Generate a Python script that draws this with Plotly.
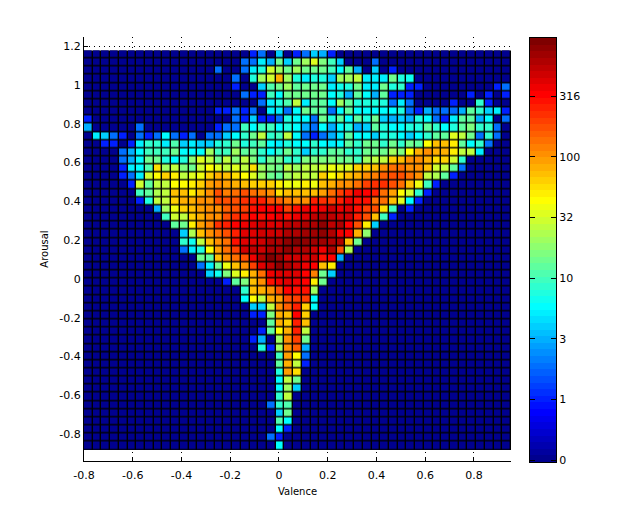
import numpy as np
import plotly.graph_objects as go

# counts per cell: top row first, each row starts at column row_start[i]
row_start = [19, 18, 15, 17, 17, 18, 20, 15, 0, 0, 1, 2, 4, 4, 4, 4, 5, 6, 6, 8, 9, 10, 11, 11, 11,
             13, 13, 14, 16, 18, 18, 19, 19, 21, 20, 19, 20, 22, 22, 22, 22, 22, 22, 21, 22, 22, 22, 21, 22]
row_counts = [
    [1, 2, 0, 4, 0, 1, 2, 4, 3, 1],
    [2, 2, 5, 3, 14, 4, 14, 20, 35, 16, 10, 4, 0, 0, 0, 2],
    [2, 0, 0, 2, 5, 8, 30, 20, 14, 20, 14, 14, 14, 10, 6, 12, 3, 0, 4, 0, 1],
    [2, 0, 8, 20, 30, 80, 20, 8, 5, 8, 8, 4, 20, 20, 25, 5, 5, 5, 14, 8, 7],
    [1, 0, 0, 4, 11, 14, 20, 12, 14, 14, 14, 5, 7, 8, 14, 5, 5, 14, 8, 9, 1, 1, 0, 0, 0, 0, 0, 0, 0, 0, 1, 2],
    [2, 1, 1, 10, 6, 14, 14, 14, 14, 14, 6, 8, 3, 12, 6, 3, 12, 1, 1, 1, 0, 0, 0, 0, 0, 0, 1, 0, 1, 0, 1],
    [2, 5, 8, 11, 25, 5, 12, 12, 6, 20, 12, 8, 8, 8, 8, 2, 5, 2, 0, 0, 0, 0, 1, 0, 0, 9, 1],
    [1, 1, 2, 1, 2, 0, 5, 5, 2, 6, 14, 12, 12, 2, 6, 12, 6, 6, 6, 6, 6, 8, 2, 1, 3, 2, 2, 2, 3, 12, 9, 4, 5, 1],
    [1, 0, 0, 0, 0, 0, 0, 0, 0, 0, 0, 0, 0, 0, 0, 0, 0, 2, 1, 4, 1, 1, 2, 8, 6, 6, 2, 14, 8, 12, 6, 13, 8, 15, 4, 3, 4, 3, 8, 6, 2, 1, 5, 12, 12, 3, 6, 0, 2],
    [3, 0, 0, 0, 0, 0, 2, 0, 0, 0, 0, 0, 0, 0, 0, 1, 2, 2, 10, 6, 10, 10, 6, 8, 6, 3, 2, 6, 3, 6, 8, 3, 4, 13, 8, 6, 6, 8, 8, 13, 9, 6, 8, 13, 16, 9, 9, 2],
    [5, 4, 2, 1, 0, 2, 1, 2, 6, 2, 1, 2, 0, 2, 2, 4, 6, 9, 14, 25, 9, 10, 28, 6, 2, 1, 2, 3, 5, 13, 6, 6, 4, 8, 8, 6, 4, 6, 9, 13, 13, 35, 25, 14, 2, 9, 2],
    [1, 1, 0, 1, 5, 9, 9, 5, 11, 4, 5, 4, 4, 8, 9, 14, 8, 10, 12, 6, 5, 8, 6, 6, 9, 6, 5, 6, 12, 9, 14, 14, 9, 14, 9, 14, 13, 45, 70, 70, 50, 13, 6, 9, 2],
    [2, 3, 6, 10, 10, 10, 14, 6, 6, 6, 20, 10, 10, 20, 12, 14, 9, 6, 9, 14, 9, 4, 9, 9, 12, 13, 9, 9, 14, 14, 14, 20, 16, 45, 85, 100, 85, 85, 50, 25, 28, 5],
    [2, 3, 6, 14, 15, 8, 6, 8, 18, 35, 28, 14, 25, 16, 25, 16, 9, 14, 14, 9, 9, 16, 16, 16, 16, 14, 14, 10, 20, 25, 28, 65, 75, 100, 100, 80, 55, 60, 30, 9],
    [1, 5, 6, 11, 55, 20, 25, 17, 14, 30, 45, 35, 28, 32, 25, 55, 20, 16, 14, 25, 20, 25, 25, 30, 40, 35, 35, 60, 60, 70, 110, 130, 130, 110, 110, 75, 30, 25, 13, 2],
    [1, 2, 5, 30, 45, 60, 50, 25, 35, 40, 60, 80, 70, 55, 45, 35, 20, 15, 13, 20, 28, 28, 28, 60, 45, 55, 70, 85, 100, 120, 150, 180, 180, 130, 100, 28, 22, 12, 1],
    [1, 30, 13, 25, 28, 45, 45, 50, 65, 90, 100, 90, 85, 70, 65, 65, 60, 50, 40, 40, 50, 40, 70, 80, 100, 110, 130, 200, 220, 230, 170, 130, 70, 40, 10, 1],
    [10, 12, 22, 28, 70, 70, 50, 75, 110, 170, 120, 130, 170, 130, 120, 100, 55, 70, 70, 70, 75, 90, 140, 200, 240, 350, 320, 250, 140, 90, 45, 30, 9, 1],
    [1, 8, 25, 28, 65, 80, 85, 100, 110, 170, 170, 170, 220, 240, 240, 170, 150, 120, 110, 110, 240, 220, 200, 250, 350, 280, 300, 130, 130, 75, 32, 6, 1],
    [3, 20, 40, 65, 70, 90, 100, 110, 150, 170, 200, 300, 320, 330, 320, 200, 300, 350, 330, 350, 450, 350, 400, 300, 200, 170, 55, 10, 0, 1],
    [10, 30, 25, 65, 85, 100, 110, 170, 220, 250, 320, 300, 340, 380, 300, 350, 400, 550, 600, 550, 500, 500, 250, 170, 75, 10, 1],
    [13, 15, 50, 95, 120, 220, 250, 330, 350, 400, 450, 400, 400, 550, 550, 600, 650, 750, 550, 600, 330, 170, 50, 4],
    [4, 22, 70, 110, 130, 170, 250, 400, 400, 450, 500, 500, 620, 650, 700, 700, 750, 650, 350, 330, 85, 18],
    [9, 7, 25, 75, 110, 130, 300, 400, 420, 480, 600, 620, 800, 850, 800, 700, 700, 650, 600, 70, 14],
    [2, 5, 8, 45, 90, 130, 200, 500, 520, 500, 620, 650, 750, 650, 650, 500, 350, 620, 170, 22],
    [14, 12, 70, 100, 130, 170, 350, 600, 850, 680, 450, 500, 450, 450, 300, 320, 3],
    [2, 5, 14, 40, 70, 110, 200, 420, 550, 750, 650, 450, 380, 330, 70, 50],
    [4, 7, 16, 32, 50, 80, 140, 350, 400, 400, 400, 330, 120, 15, 4],
    [1, 12, 16, 70, 100, 300, 350, 400, 350, 320, 50, 15],
    [9, 75, 80, 100, 170, 320, 280, 280, 20],
    [6, 45, 25, 85, 90, 170, 200, 200, 6],
    [4, 4, 25, 100, 150, 260, 65, 6],
    [1, 1, 16, 85, 70, 320, 65],
    [12, 80, 60, 260, 70],
    [1, 13, 45, 85, 250, 28],
    [1, 3, 0, 20, 100, 200, 14],
    [8, 1, 20, 100, 150, 3],
    [10, 90, 45, 2],
    [13, 80, 28, 1],
    [8, 90, 55],
    [6, 25, 15],
    [6, 20, 4],
    [9, 25],
    [2, 9, 11],
    [4, 14],
    [11, 6],
    [6, 1],
    [2, 1],
    [6],
]
x_ticks = [-0.8, -0.6, -0.4, -0.2, 0, 0.2, 0.4, 0.6, 0.8]
x_labels = ['-0.8', '-0.6', '-0.4', '-0.2', '0', '0.2', '0.4', '0.6', '0.8']
y_ticks = [-0.8, -0.6, -0.4, -0.2, 0, 0.2, 0.4, 0.6, 0.8, 1, 1.2]
y_labels = ['-0.8', '-0.6', '-0.4', '-0.2', '0', '0.2', '0.4', '0.6', '0.8', '1', '1.2']
cbar_counts = ['0', '1', '3', '10', '32', '100', '316']
cbar_ticks = [-0.5, 0, 0.5, 1, 1.5, 2, 2.5]

n_bins = 49
log_min, log_max = -0.514, 2.978
zero_floor = 10 ** -0.5  # empty cells sit on the "0" tick

counts = np.zeros((n_bins, n_bins))
for i, vals in enumerate(row_counts):
    counts[i, row_start[i]:row_start[i] + len(vals)] = vals
z = np.log10(np.maximum(counts, zero_floor))

x_edges = np.linspace(-0.8, 0.952, n_bins + 1)
y_edges = np.linspace(1.178, -0.881, n_bins + 1)


# matlab jet with 64 flat steps
pos = (np.arange(64) + 1) / 64
r = np.interp(pos, [0.375, 0.625, 0.875, 1], [0, 1, 1, 0.5])
g = np.interp(pos, [0.125, 0.375, 0.625, 0.875], [0, 1, 1, 0])
b = np.interp(pos, [0, 0.125, 0.375, 0.625], [0.5, 1, 1, 0], left=0.5)
jet = []
for i in range(64):
    c = 'rgb(%d,%d,%d)' % (r[i] * 255, g[i] * 255, b[i] * 255)
    jet.append([i / 64, c])
    jet.append([(i + 1) / 64, c])

font = dict(family='DejaVu Sans', size=11, color='black')
# the page body keeps an 8px margin, so the figure is 8px smaller and positions are taken off by 8
PAD = 8
W, H = 636 - PAD, 519 - PAD


def dom_x(a, b):
    return [(a - PAD) / W, (b - PAD) / W]


def dom_y(top, bottom):
    return [1 - (bottom - PAD) / H, 1 - (top - PAD) / H]


fig = go.Figure()
fig.add_trace(go.Heatmap(x=x_edges, y=y_edges, z=z, colorscale=jet, zmin=log_min, zmax=log_max,
                         xgap=1.4, ygap=1.4, showscale=False, xaxis='x', yaxis='y'))

# colour bar as its own little axes, so ticks can sit on both sides
cbar_edges = np.linspace(log_min, log_max, 65)
cbar_z = [[v] for v in (cbar_edges[:-1] + cbar_edges[1:]) / 2]
fig.add_trace(go.Heatmap(x=[0, 1], y=cbar_edges, z=cbar_z, colorscale=jet, zmin=log_min, zmax=log_max,
                         showscale=False, xaxis='x2', yaxis='y2'))

# black behind the cells shows through the gaps as the cell borders
fig.add_shape(type='rect', xref='x', yref='y', x0=x_edges[0], x1=x_edges[-1], y0=y_edges[-1], y1=y_edges[0],
              fillcolor='black', line_width=0, layer='below')

fig.update_layout(
    width=W, height=H, margin=dict(l=0, r=0, t=0, b=0), showlegend=False,
    paper_bgcolor='white', plot_bgcolor='white', font=font,
    xaxis=dict(domain=dom_x(84, 511), range=[-0.8, 0.952], tickvals=x_ticks, ticktext=x_labels, automargin=False,
               ticks='inside', ticklen=4, tickcolor='black', showline=True, linecolor='black', linewidth=1,
               showgrid=True, gridcolor='black', griddash='1px,4px', gridwidth=1, zeroline=False, ticklabelstandoff=4,
               layer='below traces', anchor='y', title=dict(text='Valence', font=dict(size=10), standoff=6)),
    yaxis=dict(domain=dom_y(37, 461), range=[-0.938, 1.247], tickvals=y_ticks, ticktext=y_labels, automargin=False,
               ticks='inside', ticklen=4, tickcolor='black', showline=True, linecolor='black', linewidth=1,
               showgrid=True, gridcolor='black', griddash='1px,4px', gridwidth=1, zeroline=False,
               layer='below traces', anchor='x', title=dict(text='Arousal', font=dict(size=10), standoff=8)),
    xaxis2=dict(domain=dom_x(530, 556), range=[0, 1], showticklabels=False, ticks='', showgrid=False,
                zeroline=False, showline=True, linecolor='black', mirror=True, anchor='y2', automargin=False),
    yaxis2=dict(domain=dom_y(38, 462), range=[log_min, log_max], tickvals=cbar_ticks, ticktext=cbar_counts,
                ticks='inside', ticklen=5, tickcolor='black', side='right', showline=True, linecolor='black',
                mirror='ticks', showgrid=False, zeroline=False, anchor='x2', automargin=False),
)

fig.write_html("out.html")
